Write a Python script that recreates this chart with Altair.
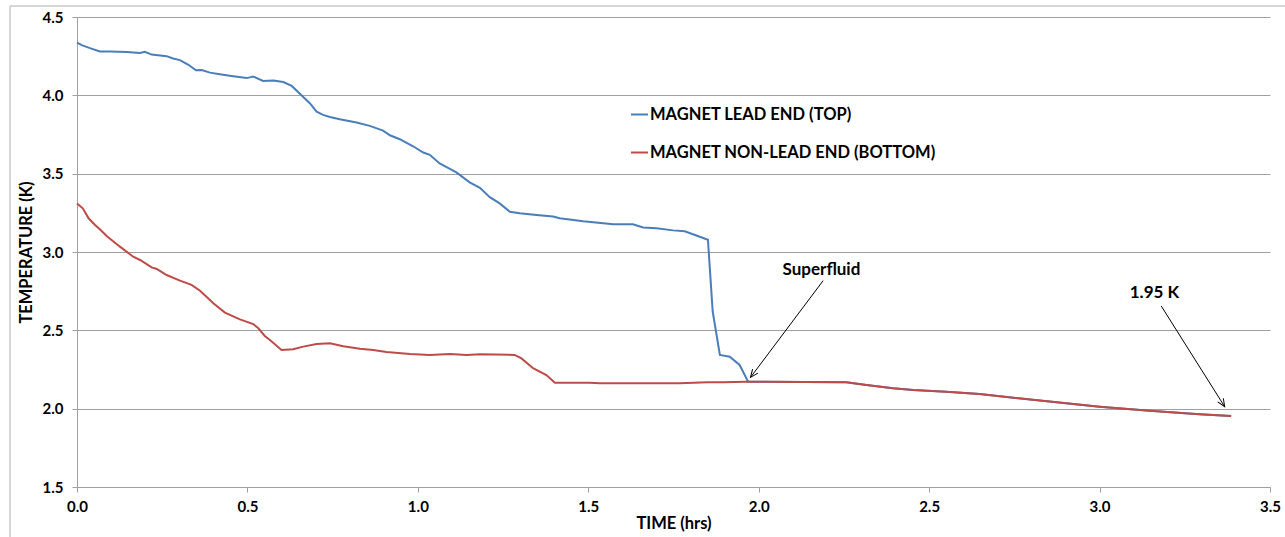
import altair as alt
import pandas as pd

# ---- data ----
lead_time = [0.0, 0.014, 0.04, 0.067, 0.097, 0.146, 0.185, 0.199, 0.219, 0.263, 0.282, 0.302,
             0.327, 0.349, 0.366, 0.39, 0.419, 0.458, 0.498, 0.517, 0.546, 0.576, 0.605, 0.63,
             0.654, 0.683, 0.703, 0.722, 0.742, 0.771, 0.82, 0.859, 0.898, 0.918, 0.947, 0.986,
             1.016, 1.035, 1.064, 1.094, 1.113, 1.152, 1.182, 1.211, 1.24, 1.27, 1.299, 1.348,
             1.397, 1.416, 1.485, 1.544, 1.573, 1.631, 1.661, 1.7, 1.749, 1.783, 1.817, 1.851,
             1.865, 1.886, 1.915, 1.944, 1.969, 2.013, 2.257, 2.316, 2.394, 2.453, 2.55, 2.648,
             2.853, 3.0, 3.147, 3.293, 3.386]
lead_temp = [4.336, 4.32, 4.30, 4.28, 4.28, 4.277, 4.27, 4.278, 4.26, 4.25, 4.235, 4.225,
             4.195, 4.16, 4.162, 4.145, 4.135, 4.122, 4.11, 4.12, 4.092, 4.095, 4.085, 4.06,
             4.01, 3.95, 3.896, 3.875, 3.862, 3.847, 3.826, 3.805, 3.775, 3.745, 3.72, 3.675,
             3.635, 3.62, 3.565, 3.53, 3.508, 3.445, 3.41, 3.35, 3.31, 3.257, 3.248, 3.236,
             3.226, 3.215, 3.196, 3.184, 3.177, 3.177, 3.157, 3.152, 3.138, 3.132, 3.105, 3.078,
             2.62, 2.343, 2.332, 2.279, 2.172, 2.172, 2.168, 2.151, 2.13, 2.119, 2.108, 2.094,
             2.045, 2.013, 1.987, 1.964, 1.953]

nonlead_time = [0.0, 0.017, 0.034, 0.053, 0.067, 0.087, 0.126, 0.165, 0.185, 0.219, 0.234, 0.263,
                0.302, 0.336, 0.361, 0.4, 0.434, 0.478, 0.517, 0.532, 0.551, 0.566, 0.6, 0.634,
                0.664, 0.703, 0.742, 0.781, 0.83, 0.869, 0.908, 0.977, 1.035, 1.094, 1.143, 1.182,
                1.284, 1.304, 1.338, 1.377, 1.402, 1.504, 1.534, 1.768, 1.85, 1.895, 1.964, 2.013,
                2.257, 2.316, 2.394, 2.453, 2.55, 2.648, 2.853, 3.0, 3.147, 3.293, 3.386]
nonlead_temp = [3.31, 3.279, 3.215, 3.172, 3.145, 3.102, 3.034, 2.97, 2.949, 2.902, 2.892, 2.853,
                2.817, 2.79, 2.753, 2.673, 2.613, 2.57, 2.54, 2.513, 2.464, 2.438, 2.375, 2.379,
                2.396, 2.413, 2.417, 2.398, 2.383, 2.374, 2.362, 2.349, 2.343, 2.349, 2.343, 2.348,
                2.343, 2.321, 2.258, 2.215, 2.166, 2.166, 2.162, 2.162, 2.168, 2.168, 2.172, 2.172,
                2.168, 2.151, 2.13, 2.119, 2.108, 2.094, 2.045, 2.013, 1.987, 1.964, 1.953]

series_names = ["MAGNET LEAD END (TOP)", "MAGNET NON-LEAD END (BOTTOM)"]
series_colors = ["#4a7ebb", "#be4b48"]

x_ticks = [0.0, 0.5, 1.0, 1.5, 2.0, 2.5, 3.0, 3.5]
y_ticks = [1.5, 2.0, 2.5, 3.0, 3.5, 4.0, 4.5]

ann_text = ["Superfluid", "1.95 K"]
ann_text_x = [2.184, 3.161]
ann_text_y = [2.885, 2.736]
arrow_x0 = [2.189, 3.181]
arrow_y0 = [2.817, 2.655]
arrow_x1 = [1.976, 3.367]
arrow_y1 = [2.200, 2.013]
arrow_angle = [216.9, 147.8]

FONT = "Lato"

# ---- tables ----
rows = []
for t, v in zip(lead_time, lead_temp):
    rows.append({"time": t, "temp": v, "series": series_names[0], "order": 0})
for t, v in zip(nonlead_time, nonlead_temp):
    rows.append({"time": t, "temp": v, "series": series_names[1], "order": 1})
df = pd.DataFrame(rows)

ann = pd.DataFrame({"text": ann_text, "tx": ann_text_x, "ty": ann_text_y,
                    "x0": arrow_x0, "y0": arrow_y0, "x1": arrow_x1, "y1": arrow_y1,
                    "angle": arrow_angle})

xscale = alt.Scale(domain=[0, 3.5], nice=False, zero=False)
yscale = alt.Scale(domain=[1.5, 4.5], nice=False, zero=False)

lines = alt.Chart(df).mark_line(strokeWidth=2).encode(
    x=alt.X("time:Q", scale=xscale,
            axis=alt.Axis(values=x_ticks, format=".1f", title="TIME (hrs)", grid=False,
                          labelFlush=False, labelPadding=7, titlePadding=1)),
    y=alt.Y("temp:Q", scale=yscale,
            axis=alt.Axis(values=y_ticks, format=".1f", title="TEMPERATURE (K)", grid=True,
                          labelFlush=False, labelPadding=9, titlePadding=8)),
    color=alt.Color("series:N", scale=alt.Scale(domain=series_names, range=series_colors),
                    legend=alt.Legend(title=None, orient="none", legendX=553, legendY=88,
                                      symbolType="stroke", symbolSize=289, symbolStrokeWidth=2,
                                      labelFont=FONT, labelFontSize=16.5, labelFontWeight="bold",
                                      labelColor="black", labelOffset=1, rowPadding=20,
                                      labelLimit=400)),
    order=alt.Order("order:Q"),
    detail="series:N",
)

labels = alt.Chart(ann).mark_text(font=FONT, fontSize=17, fontWeight="bold", color="black",
                                  baseline="middle", align="center").encode(
    x=alt.X("tx:Q", scale=xscale), y=alt.Y("ty:Q", scale=yscale), text="text:N")

arrows = alt.Chart(ann).mark_rule(color="black", strokeWidth=1).encode(
    x=alt.X("x0:Q", scale=xscale), y=alt.Y("y0:Q", scale=yscale),
    x2="x1:Q", y2="y1:Q")

heads = alt.Chart(ann).mark_point(shape="M-0.55,1.3 L0,0 L0.55,1.3", size=144, filled=False,
                                  stroke="black", strokeWidth=1, opacity=1).encode(
    x=alt.X("x1:Q", scale=xscale), y=alt.Y("y1:Q", scale=yscale),
    angle=alt.Angle("angle:Q", scale=None))

one = pd.DataFrame({"a": [0]})
border_left = alt.Chart(one).mark_rule(color="#c8c8c8", strokeWidth=1.5).encode(
    x=alt.value(-67), y=alt.value(-11), y2=alt.value(530))
border_top = alt.Chart(one).mark_rule(color="#c8c8c8", strokeWidth=1.5).encode(
    x=alt.value(-67), x2=alt.value(1210), y=alt.value(-11))

chart = alt.layer(border_left, border_top, lines, arrows, heads, labels).properties(
    width=1193, height=470,
    autosize=alt.AutoSizeParams(type="none"),
    padding={"left": 77, "top": 17, "right": 15, "bottom": 50},
).configure_view(stroke=None).configure_axis(
    labelFont=FONT, labelFontSize=15, labelFontWeight="bold", labelColor="black",
    titleFont=FONT, titleFontSize=16.5, titleFontWeight="bold", titleColor="black",
    domainColor="#a0a0a0", tickColor="#a0a0a0", gridColor="#a0a0a0",
    tickSize=5, domainWidth=1, gridWidth=1,
)

chart.save("out.html", embed_options={"renderer": "svg", "actions": False})
